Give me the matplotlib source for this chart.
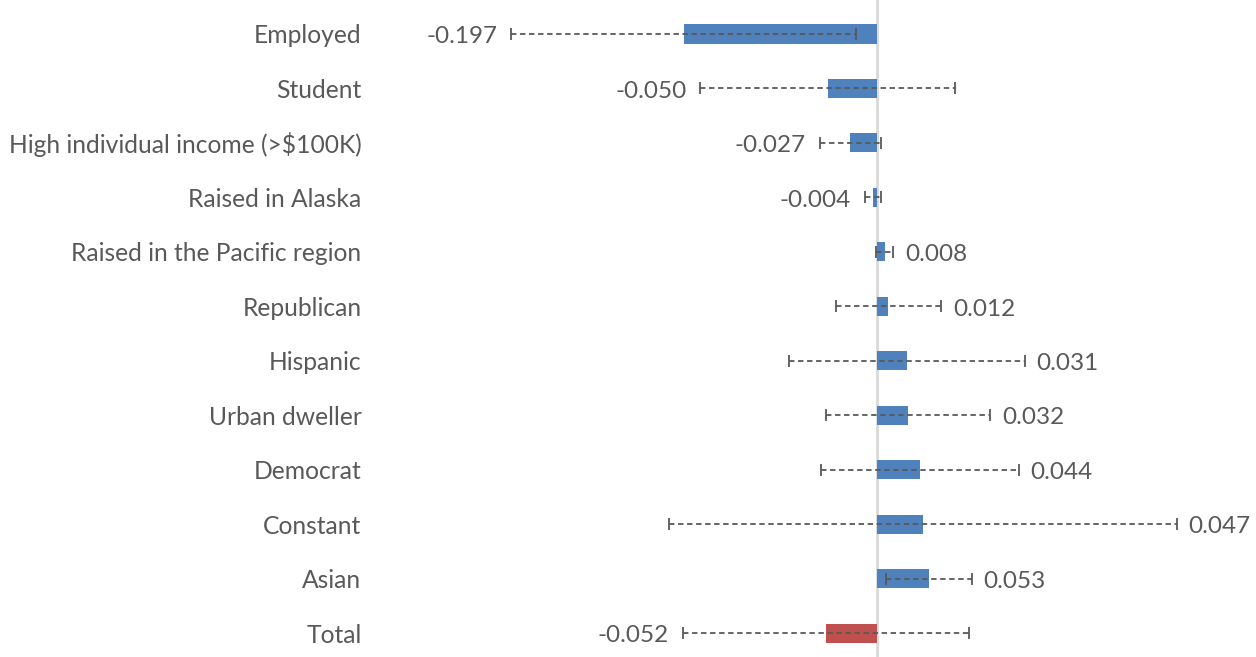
import numpy as np
import matplotlib.pyplot as plt

labels = ["Employed", "Student", "High individual income (>$100K)", "Raised in Alaska",
          "Raised in the Pacific region", "Republican", "Hispanic", "Urban dweller",
          "Democrat", "Constant", "Asian", "Total"]
values = [-0.197, -0.050, -0.027, -0.004, 0.008, 0.012, 0.031, 0.032, 0.044, 0.047, 0.053, -0.052]
errors = [0.176, 0.130, 0.031, 0.008, 0.009, 0.054, 0.120, 0.084, 0.101, 0.259, 0.044, 0.146]
colors = ["#4F81BD"] * 11 + ["#C0504D"]

plt.rcParams['font.family'] = ['Lato', 'DejaVu Sans']

fig = plt.figure(figsize=(12.56, 6.57), dpi=100)
ax = fig.add_axes([0.30, 0.0, 0.70, 1.0])

y = np.arange(len(labels))
ax.barh(y, values, height=0.35, color=colors, zorder=2)
eb = ax.errorbar(values, y, xerr=errors, fmt='none', ecolor='#595959', elinewidth=1.3,
                 capsize=4, capthick=1.3, zorder=3)
eb[2][0].set_linestyle((0, (3, 2)))

ax.axvline(0, color='#D9D9D9', lw=2, zorder=1)

for yi, v, e in zip(y, values, errors):
    txt = f"{v:.3f}"
    if v < 0:
        ax.text(v - e - 0.014, yi + 0.05, txt, ha='right', va='center', fontsize=17.5, color='#595959')
    else:
        ax.text(v + e + 0.012, yi + 0.05, txt, ha='left', va='center', fontsize=17.5, color='#595959')

ax.set_xlim(-0.510, 0.387)
ax.set_ylim(11.44, -0.624)
ax.set_yticks(y)
ax.set_yticklabels(labels, fontsize=17.7, color='#595959')
ax.tick_params(axis='y', length=0, pad=11)
ax.set_xticks([])
for s in ax.spines.values():
    s.set_visible(False)

fig.savefig("out.png", dpi=100)
